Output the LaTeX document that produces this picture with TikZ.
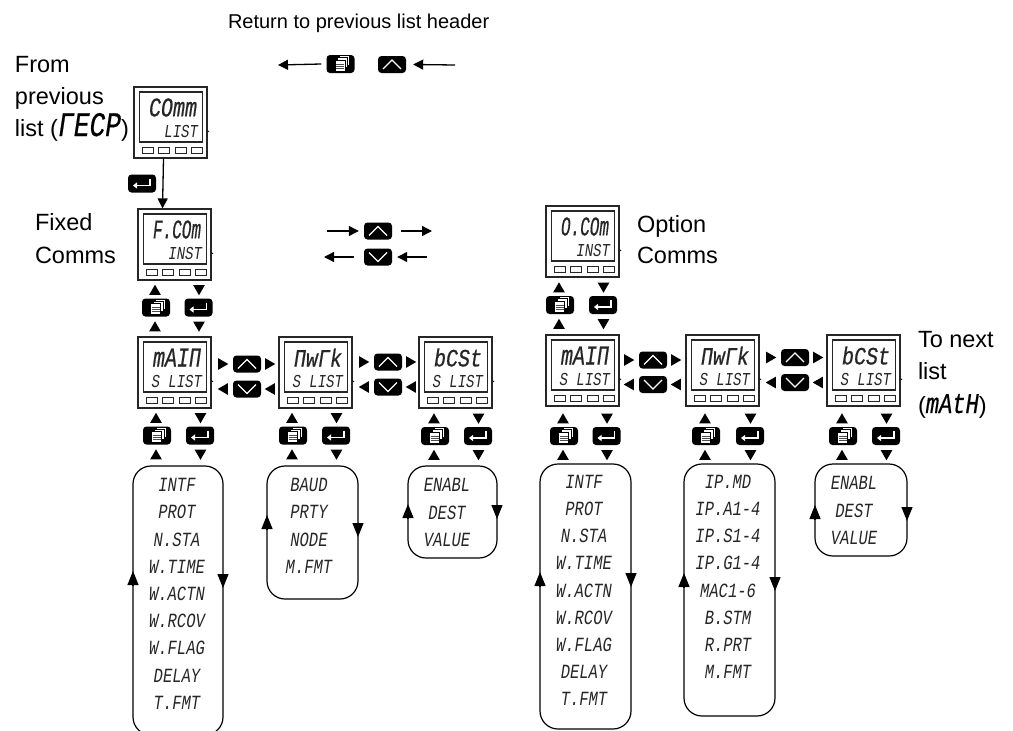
\documentclass[tikz,border=0pt]{standalone}
\usepackage{fontspec}
\setmainfont{Liberation Sans}
\newfontfamily\lcdfont{Liberation Mono}
\newfontfamily\lcdheavy[FakeBold=0.7]{Liberation Mono}
\usetikzlibrary{positioning, shapes.geometric, arrows.meta}

%% LCD lettering
\newcommand{\lcdsmall}[1]{{\lcdfont\itshape\fontsize{14}{14}\selectfont\scalebox{1}[1.3]{#1}}}
\newcommand{\lcdlist}[1]{{\lcdfont\itshape\fontsize{15.5}{16}\selectfont\scalebox{1}[1.3]{#1}}}
\newcommand{\lcdtop}[1]{\resizebox{48pt}{18pt}{\lcdheavy\itshape #1}}
\newcommand{\lcdlbl}[3]{\resizebox{#1pt}{#2pt}{\lcdheavy\itshape #3}}

%% instrument: name, left, top, upper text, lower text
\newcommand{\instr}[5]{
  \node[instrbox] (#1) at ({#2+36.5},{#3+35.5}) {};
  \node[screenbox] (#1scr) at ({#2+37},{#3+30}) {};
  \node[txt, anchor=east] (#1up) at ({#2+63},{#3+20.5}) {\lcdtop{#4}};
  \node[txt, anchor=east] (#1lo) at ({#2+64},{#3+44}) {\lcdsmall{#5}};
  \foreach \bx in {13.5,30,46.5,63} {
    \node[btn] (#1b\bx) at ({#2+\bx},{#3+63}) {};
  }
  \draw[line width=0.6pt] ([yshift=-8pt]#1.east) -- ++(1.5,1.5);
}

%% key icons: name, x, y
\newcommand{\upkey}[3]{
  \node[keybox, minimum height=17pt] (#1) at (#2,#3) {};
  \draw[keyline] ([shift={(-9pt,-4.5pt)}]#1.center) -- ([shift={(0pt,4.5pt)}]#1.center) -- ([shift={(9pt,-4.5pt)}]#1.center);
}
\newcommand{\downkey}[3]{
  \node[keybox, minimum height=17pt] (#1) at (#2,#3) {};
  \draw[keyline] ([shift={(-9pt,4.5pt)}]#1.center) -- ([shift={(0pt,-4.5pt)}]#1.center) -- ([shift={(9pt,4.5pt)}]#1.center);
}
\newcommand{\enterkey}[3]{
  \node[keybox] (#1) at (#2,#3) {};
  \draw[keyline, -{Triangle[length=4pt,width=6pt]}] ([shift={(8pt,5pt)}]#1.center) |- ([shift={(-9pt,-2pt)}]#1.center);
}
\newcommand{\pagekey}[3]{
  \node[keybox] (#1) at (#2,#3) {};
  \foreach \off in {4,2} {
    \draw[sheet] ([shift={(-5pt+\off pt,-5.5pt+\off pt)}]#1.center) rectangle +(10,-10);
  }
  \draw[sheet] ([shift={(-5.5pt,-7pt)}]#1.center) rectangle ++(10,-11);
  \foreach \off in {3,5,7} {
    \draw[black!70, line width=0.5pt] ([shift={(-4.5pt,{-7pt+\off pt})}]#1.center) -- ++(8,0);
  }
}

%% enter and page pair with their triangles: name, x page, x enter, y
\newcommand{\keypair}[4]{
  \pagekey{#1page}{#2}{#4}
  \enterkey{#1ent}{#3}{#4}
  \node[triup] (#1pa) at ({#2-1},{#4-17.5}) {};
  \node[triup] (#1pb) at ({#2-1},{#4+19}) {};
  \node[tridown] (#1ea) at ({#3+0.5},{#4-17.5}) {};
  \node[tridown] (#1eb) at ({#3+0.5},{#4+19}) {};
}

%% up and down pair with their triangles: name, x, y up, y down
\newcommand{\updown}[4]{
  \upkey{#1up}{#2}{#3}
  \downkey{#1dn}{#2}{#4}
  \node[triright] (#1ua) at ({#2-24},{#3}) {};
  \node[triright] (#1ub) at ({#2+23},{#3}) {};
  \node[trileft] (#1da) at ({#2-24},{#4}) {};
  \node[trileft] (#1db) at ({#2+23},{#4}) {};
}

%% list loop: name, left, top, right, bottom, y of tip up, y of tip down
\newcommand{\listloop}[7]{
  \node[loopbox, minimum width={(#4-#2)*1pt}, minimum height={(#5-#3)*1pt}] (#1) at ({(#2+#4)/2},{(#3+#5)/2}) {};
  \node[coordinate] (#1ua) at (#2,#6) {};
  \node[coordinate] (#1ub) at (#2,{#6+14}) {};
  \node[coordinate] (#1da) at (#4,{#7-14}) {};
  \node[coordinate] (#1db) at (#4,#7) {};
  \draw[looptip] (#1ub) -- (#1ua);
  \draw[looptip] (#1da) -- (#1db);
}

\begin{document}
\begin{tikzpicture}[
    x=1pt, y=-1pt,
    txt/.style={inner sep=0pt, outer sep=0pt, text=black!85},
    lbl/.style={inner sep=0pt, outer sep=0pt, anchor=base west, font=\fontsize{20}{20}\selectfont},
    sidelbl/.style={lbl, font=\fontsize{23.5}{24}\selectfont},
    instrbox/.style={draw=black!85, line width=1.2pt, minimum width=73pt, minimum height=71pt, inner sep=0pt},
    screenbox/.style={draw=black!85, line width=1.2pt, minimum width=63pt, minimum height=50pt, inner sep=0pt},
    btn/.style={draw=black!85, line width=0.8pt, minimum width=11pt, minimum height=6pt, inner sep=0pt},
    keybox/.style={fill=black, rounded corners=3.5pt, minimum width=28pt, minimum height=18pt, inner sep=0pt},
    keyline/.style={white, line width=1.2pt},
    sheet/.style={draw=black, fill=white, line width=0.4pt},
    tri/.style={regular polygon, regular polygon sides=3, fill=black, minimum size=13.5pt, inner sep=0pt},
    triup/.style={tri, yshift=-1.5pt},
    tridown/.style={tri, shape border rotate=180, yshift=1.5pt},
    triright/.style={tri, shape border rotate=-90, xshift=-1.5pt},
    trileft/.style={tri, shape border rotate=90, xshift=1.5pt},
    loopbox/.style={draw=black, line width=1.2pt, rounded corners=18pt, inner sep=0pt},
    looptip/.style={line width=1.2pt, -{Triangle[length=14pt,width=11pt]}},
    arr/.style={-{Triangle[length=10pt,width=10pt]}, line width=1.3pt},
  ]
  \useasboundingbox (0,0) rectangle (1013,731);
  \clip (0,0) rectangle (1013,731);

  %% Title and return keys
  \node[lbl] (title) at (228,28) {Return to previous list header};
  \pagekey{retpage}{340.5}{64}
  \upkey{retup}{392}{64.5}
  \coordinate (retl) at (278,65);
  \coordinate (retr) at (455,65);
  \draw[arr] ([xshift=-5pt]retpage.west) -- (retl);
  \draw[arr] (retr) -- ([xshift=7pt]retup.east);

  %% Side texts
  \node[sidelbl] (from1) at (15,72) {From};
  \node[sidelbl] (from2) at (15,104) {previous};
  \node[sidelbl] (from3) at (15,136) {list (\lcdlbl{63}{23}{ΓECP})};
  \node[sidelbl] (fix1) at (35,230) {Fixed};
  \node[sidelbl] (fix2) at (35,263) {Comms};
  \node[sidelbl] (opt1) at (637,232) {Option};
  \node[sidelbl] (opt2) at (637,263) {Comms};
  \node[sidelbl] (next1) at (918,347) {To next};
  \node[sidelbl] (next2) at (918,379) {list};
  \node[sidelbl] (next3) at (918,413) {(\lcdlbl{53}{19}{mAtH})};

  %% Top instruments
  \instr{comm}{134}{87}{COmm}{LIST}
  \instr{fcom}{138}{209}{F.COm}{INST}
  \instr{ocom}{546}{206}{O.COm}{INST}
  \enterkey{commkey}{142}{183.5}
  \draw[arr] ([xshift=-7pt]comm.south) -- ([xshift=-12pt]fcom.north);

  %% Legend of the scroll keys
  \upkey{legup}{378}{231}
  \downkey{legdn}{378}{257}
  \coordinate (leg1) at (327,231);
  \coordinate (leg2) at (432,231);
  \coordinate (leg3) at (324,257);
  \coordinate (leg4) at (427,257);
  \draw[arr] (leg1) -- ([xshift=-5pt]legup.west);
  \draw[arr] ([xshift=9pt]legup.east) -- (leg2);
  \draw[arr] ([xshift=-10pt]legdn.west) -- (leg3);
  \draw[arr] (leg4) -- ([xshift=5pt]legdn.east);

  %% Fixed comms row
  \keypair{fcomk}{156}{198.5}{307.5}
  \instr{fmain}{138}{337}{mAIΠ}{S LIST}
  \instr{fnwrk}{279}{337}{ΠwΓk}{S LIST}
  \instr{fbcst}{419}{337}{bCSt}{S LIST}
  \updown{fud}{247}{364}{389}
  \updown{fve}{388}{362}{387}
  \keypair{fmaink}{157}{200}{435.5}
  \keypair{fnwrkk}{293}{336}{435.5}
  \keypair{fbcstk}{435}{478}{436}

  %% Option comms row
  \keypair{ocomk}{560}{603}{305}
  \instr{omain}{546}{335}{mAIΠ}{S LIST}
  \instr{onwrk}{686}{335}{ΠwΓk}{S LIST}
  \instr{obcst}{827}{335}{bCSt}{S LIST}
  \updown{oud}{653}{360}{384.5}
  \updown{ove}{795}{357.5}{382.5}
  \keypair{omaink}{564}{606.5}{436}
  \keypair{onwrkk}{706}{750}{436}
  \keypair{obcstk}{843}{886}{436}

  %% Lists
  \listloop{fmainl}{133}{466}{223}{735}{571}{588}
  \foreach \ltxt [count=\i] in {INTF,PROT,N.STA,W.TIME,W.ACTN,W.RCOV,W.FLAG,DELAY,T.FMT}
    \node[txt] (fmain\i) at (177,{485+(\i-1)*27.2}) {\lcdlist{\ltxt}};

  \listloop{fnwrkl}{267}{466}{358}{599}{515}{537}
  \foreach \ltxt [count=\i] in {BAUD,PRTY,NODE,M.FMT}
    \node[txt] (fnwrk\i) at (309,{485+(\i-1)*27.2}) {\lcdlist{\ltxt}};

  \listloop{fbcstl}{408}{466}{497}{558}{504}{519}
  \foreach \ltxt [count=\i] in {ENABL,DEST,VALUE}
    \node[txt] (fbcst\i) at (447,{485+(\i-1)*27.5}) {\lcdlist{\ltxt}};

  \listloop{omainl}{540}{464}{631}{729}{572}{587}
  \foreach \ltxt [count=\i] in {INTF,PROT,N.STA,W.TIME,W.ACTN,W.RCOV,W.FLAG,DELAY,T.FMT}
    \node[txt] (omain\i) at (584,{482+(\i-1)*27.1}) {\lcdlist{\ltxt}};

  \listloop{onwrkl}{684}{464}{775}{716}{573}{591}
  \foreach \ltxt [count=\i] in {IP.MD,IP.A1-4,IP.S1-4,IP.G1-4,MAC1-6,B.STM,R.PRT,M.FMT}
    \node[txt] (onwrk\i) at (728,{482+(\i-1)*27.1}) {\lcdlist{\ltxt}};

  \listloop{obcstl}{815}{464}{907}{556}{505}{521}
  \foreach \ltxt [count=\i] in {ENABL,DEST,VALUE}
    \node[txt] (obcst\i) at (854,{483+(\i-1)*27.5}) {\lcdlist{\ltxt}};
\end{tikzpicture}
\end{document}
